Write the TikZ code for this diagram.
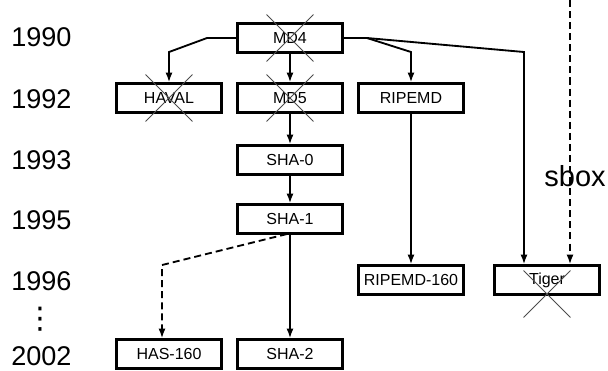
\documentclass[tikz,border=0pt]{standalone}
\usepackage{fontspec}
\setmainfont{Liberation Sans}
\newfontfamily\symfont{DejaVu Sans}
\usepackage{tikz}
\usetikzlibrary{arrows.meta, positioning, calc, shapes.misc}

\tikzset{
  hbox/.style={draw, line width=1.35pt, minimum width=2.1cm, minimum height=0.58cm, inner sep=0pt, font=\fontsize{9.1}{11}\selectfont},
  xmark/.style={cross out, draw=black!70, line width=0.55pt, minimum width=0.92cm, minimum height=0.92cm, inner sep=0pt},
  link/.style={line width=1.05pt, -{Latex[length=5.5pt, width=4pt]}},
  ext/.style={link, dash pattern=on 4pt off 2.3pt},
  year/.style={anchor=west, inner sep=0pt, font=\fontsize{15.4}{18}\selectfont}
}

\begin{document}
\begin{tikzpicture}[x=0.02cm, y=-0.02cm]
\useasboundingbox (0,0) rectangle (608,370);
% Years
\foreach \y/\lbl in {37/1990, 99/1992, 160/1993, 220/1995, 281/1996, 356/2002} {
    \node[year] (y\lbl) at (11,\y) {\lbl};
}
\node[font=\symfont\fontsize{17}{19}\selectfont, inner sep=0pt] (ydots) at (40,319) {⋮};
% Hash functions
\node[hbox] (md4) at (290,38) {MD4};
\node[hbox] (haval) at (169,98) {HAVAL};
\node[hbox] (md5) at (290,98) {MD5};
\node[hbox] (ripemd) at (411,98) {RIPEMD};
\node[hbox] (sha0) at (290,160) {SHA-0};
\node[hbox] (sha1) at (290,219) {SHA-1};
\node[hbox] (ripemd160) at (411,280) {RIPEMD-160};
\node[hbox] (tiger) at (547,280) {Tiger};
\node[hbox] (has160) at (169,354) {HAS-160};
\node[hbox] (sha2) at (290,354) {SHA-2};
% Broken ones
\node[xmark] (xmd4) at (md4) {};
\node[xmark] (xhaval) at (haval) {};
\node[xmark] (xmd5) at (md5) {};
\node[xmark] (xtiger) at (547,294) {};
% Bends
\coordinate (lbend) at (207,38);
\coordinate (lknee) at (169,52);
\coordinate (rsplit) at (367,38);
\coordinate (rknee) at (411,52);
\coordinate (tknee) at (524,52);
\coordinate (hstart) at (287,234);
\coordinate (hknee) at (162,265);
\coordinate (stop) at (570,0);
% Derivations
\draw[link] (md4.west) -- (lbend) -- (lknee) -- (haval.north);
\draw[link] (md4) -- (md5);
\draw[link] (md4.east) -- (rsplit) -- (rknee) -- (ripemd.north);
\draw[link] (rsplit) -- (tknee) -- (tknee |- tiger.north);
\draw[link] (md5) -- (sha0);
\draw[link] (sha0) -- (sha1);
\draw[link] (sha1) -- (sha2);
\draw[link] (ripemd) -- (ripemd160);
\draw[ext] (hstart) -- (hknee) -- (hknee |- has160.north);
\draw[ext] (stop) -- (stop |- tiger.north);
\node[font=\fontsize{16.5}{19}\selectfont, inner sep=0pt] (sbox) at (575,176) {sbox};
\end{tikzpicture}
\end{document}
